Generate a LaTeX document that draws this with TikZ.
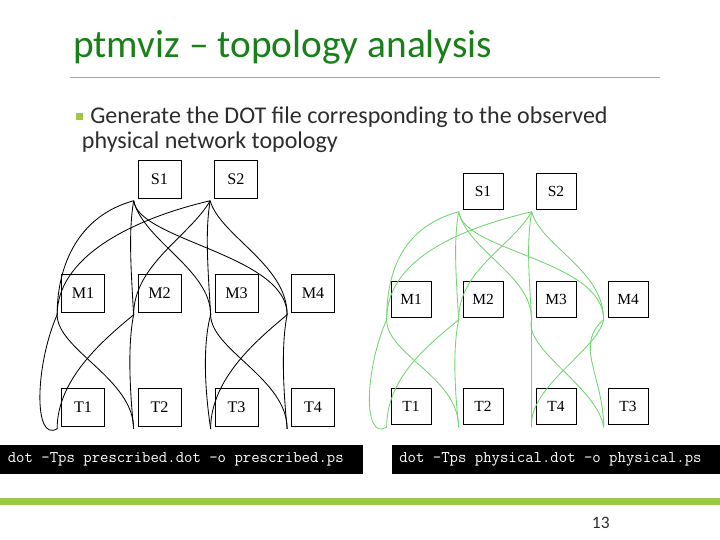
\documentclass[tikz,border=0pt]{standalone}
\usepackage{fontspec}
\setmainfont{Carlito}
\newfontfamily\dotfont{Liberation Serif}

\definecolor{titlegreen}{RGB}{25,128,25}
\definecolor{bargreen}{RGB}{155,200,70}
\definecolor{physgreen}{RGB}{110,215,110}
\definecolor{bodygray}{RGB}{45,45,45}

\tikzset{
	host/.style={draw, line width=0.5pt, inner sep=0pt, minimum width=10.75mm, minimum height=9.5mm, font=\dotfont\fontsize{11.5}{13}\selectfont},
	smallhost/.style={host, minimum width=10mm, minimum height=9mm, font=\dotfont\fontsize{11}{12}\selectfont},
	link/.style={line width=0.6pt},
	cmd/.style={anchor=base west, inner sep=0pt, text=white, font=\ttfamily\fontsize{11.6}{13}\selectfont},
	bodytext/.style={anchor=base west, inner sep=0pt, text=bodygray, font=\fontsize{17.1}{20}\selectfont}
}

\begin{document}
\begin{tikzpicture}[x=0.25mm, y=-0.25mm]
	\fill[white] (0,0) rectangle (720,540);
	\useasboundingbox (0,0) rectangle (720,540);

	% heading
	\node[anchor=base west, inner sep=0pt, text=titlegreen, font=\fontsize{28}{32}\selectfont] (title) at (73,57) {ptmviz – topology analysis};
	\draw[gray!70, line width=0.6pt] (70,77) -- (660,77);
	\fill[bargreen] (76,113) rectangle (83,119.5);
	\node[bodytext] (line1) at (90,123.3) {Generate the DOT file corresponding to the observed};
	\node[bodytext] (line2) at (81.7,148.3) {physical network topology};

	% prescribed graph
	\node[host] (preS1) at (159.5,179) {S1};
	\node[host] (preS2) at (236,179) {S2};
	\node[host] (preM1) at (83,293) {M1};
	\node[host] (preM2) at (159.5,293) {M2};
	\node[host] (preM3) at (236.5,293) {M3};
	\node[host] (preM4) at (313,293) {M4};
	\node[host] (preT1) at (83,407) {T1};
	\node[host] (preT2) at (159.5,407) {T2};
	\node[host] (preT3) at (236.5,407) {T3};
	\node[host] (preT4) at (313,407) {T4};

	% physical graph
	\node[smallhost] (phyS1) at (483,191) {S1};
	\node[smallhost] (phyS2) at (556,191) {S2};
	\node[smallhost] (phyM1) at (411,299) {M1};
	\node[smallhost] (phyM2) at (483,299) {M2};
	\node[smallhost] (phyM3) at (556,299) {M3};
	\node[smallhost] (phyM4) at (628,299) {M4};
	\node[smallhost] (phyT1) at (411,406.5) {T1};
	\node[smallhost] (phyT2) at (483,406.5) {T2};
	\node[smallhost] (phyT4) at (556,406.5) {T4};
	\node[smallhost] (phyT3) at (628,406.5) {T3};

	% edges meet just off the lower left corner
	\foreach \g in {pre,phy}
		\foreach \n in {S1,S2,M1,M2,M3,M4,T1,T2,T3,T4}
			\coordinate (\g\n-pt) at ([xshift=-1mm,yshift=-0.6mm]\g\n.south west);

	\foreach \g/\c in {pre/black, phy/physgreen} {
		\foreach \a/\b/\p/\q/\r/\s in {S1/M1/-55/15/0/50, S1/M2/-5/30/-3/50, S1/M3/10/40/0/45, S1/M4/5/40/0/60,
				S2/M1/-85/20/0/55, S2/M2/-20/35/0/50, S2/M3/-5/30/-3/50, S2/M4/10/35/0/50,
				M1/T2/0/35/0/50, M2/T1/-30/25/0/50, M2/T2/-6/30/-4/40,
				M3/T3/-8/30/-6/40, M3/T4/0/35/0/50, M4/T3/-30/25/0/50, M4/T4/-6/30/-4/40,
				M1/T1/-22/50/-24/-14}
			\draw[link, \c] (\g\a-pt) .. controls +(\p,\q) and +(\r,-\s) .. (\g\b-pt);
	}

	% command lines
	\fill[black] (0,445) rectangle (363,474);
	\fill[black] (392,445) rectangle (720,474);
	\node[cmd] (precmd) at (7.5,462) {dot -Tps prescribed.dot -o prescribed.ps};
	\node[cmd] (phycmd) at (399,462) {dot -Tps physical.dot -o physical.ps};

	% footer
	\fill[bargreen] (0,498) rectangle (720,505);
	\node[anchor=base west, inner sep=0pt, text=bodygray, font=\fontsize{12.4}{14}\selectfont] (pagenum) at (591.7,528.3) {13};
\end{tikzpicture}
\end{document}
